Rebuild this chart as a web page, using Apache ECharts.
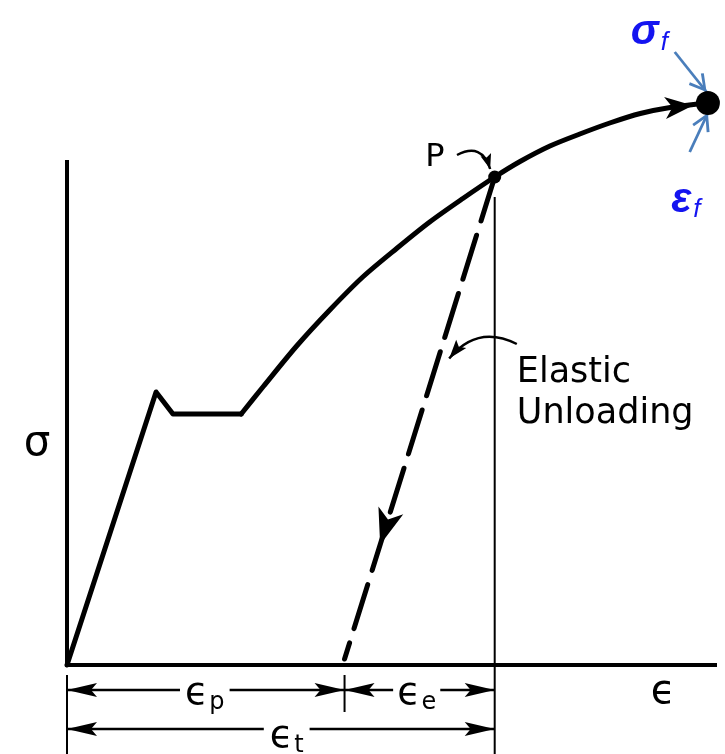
<!DOCTYPE html>
<html>
<head>
<meta charset="utf-8">
<script src="https://cdn.jsdelivr.net/npm/echarts@6/dist/echarts.min.js"></script>
<style>
  html, body { margin: 0; padding: 0; background: #fff; }
  #chart { width: 725px; height: 754px; }
</style>
</head>
<body>
<div id="chart"></div>
<script>
// Schematic engineering stress–strain curve, arbitrary units (x: strain, y: stress)
const loadingPath = [[0, 0], [13.7, 54.6], [16.3, 50.2], [26.8, 50.2]];       // elastic line, yield drop, plateau
const hardeningPath = [[26.8, 50.2], [30.2, 55.7], [35.4, 63.9], [40.5, 71.1], [45.5, 77.6],
  [50.8, 83.4], [55.8, 88.6], [60.9, 93.3], [65.8, 97.6], [69.7, 100.7], [74.3, 103.8],
  [78.9, 106.2], [83.5, 108.4], [88.2, 110.3], [92.8, 111.5], [98.6, 112.4]];
const pointP = [65.8, 97.6];          // unloading starts here
const unloadEnd = [42.7, 1.2];        // residual (plastic) strain after unloading
const fracturePoint = [98.6, 112.4];  // σf, εf
const strainAxisEnd = 100;
const stressAxisTop = 101;

// Texts
const stressSymbol = 'σ';
const strainSymbol = 'ϵ';
const pointLabel = 'P';
const unloadingLabel = ['Elastic', 'Unloading'];
const plasticSub = 'p', elasticSub = 'e', totalSub = 't';
const fractureStress = ['σ', 'f'];
const fractureStrain = ['ε', 'f'];

const chart = echarts.init(document.getElementById('chart'));
const INK = '#000';
const BLUE = '#1414f0';
const STEEL = '#4a7ebb';
const FONT = 'DejaVu Sans';

chart.setOption({
  animation: false,
  backgroundColor: '#fff',
  grid: { left: 67, right: 8, top: 15, bottom: 0 },
  xAxis: { type: 'value', min: 0, max: 100, show: false },
  yAxis: { type: 'value', min: -17.8, max: 130, show: false },
  series: []
});

const toPx = p => chart.convertToPixel({ gridIndex: 0 }, p);
const toData = p => chart.convertFromPixel({ gridIndex: 0 }, p);
function along(a, b, t) { return [a[0] + (b[0] - a[0]) * t, a[1] + (b[1] - a[1]) * t]; }

// Arrowhead whose tip sits on `tip`, pointing away from `from`
const ARROW = 'path://M10,0 L20,30 L10,24 L0,30 Z';
const BOLD_ARROW = 'path://M10,0 L20,30 L10,22 L0,30 Z';
const CHEVRON = 'path://M10,0 L20,17 L17.4,18.6 L10,5.6 L2.6,18.6 L0,17 Z';
function head(from, tip, w, h, shape) {
  const a = toPx(from), b = toPx(tip);
  const dx = b[0] - a[0], dy = b[1] - a[1];
  const len = Math.hypot(dx, dy);
  const item = {
    value: toData([b[0] - dx / len * h / 2, b[1] - dy / len * h / 2]),
    symbolSize: [w, h],
    symbolRotate: Math.atan2(-dx, -dy) * 180 / Math.PI
  };
  if (shape) item.symbol = shape;
  return item;
}
// Control point of a lines-series curve (ECharts curveness rule), for the end tangent
function curveCtrl(p1, p2, c) {
  const a = toPx(p1), b = toPx(p2);
  return toData([(a[0] + b[0]) / 2 - (a[1] - b[1]) * c, (a[1] + b[1]) / 2 - (b[0] - a[0]) * c]);
}

function seg(points, width, extra) {
  return Object.assign({
    type: 'line', clip: false, silent: true, symbol: 'none', data: points,
    lineStyle: { color: INK, width: width, cap: 'butt' }
  }, extra || {});
}

// dimension rows below the strain axis
const rowPlastic = -5, rowTotal = -12.8;
const dims = [
  [0, unloadEnd[0], rowPlastic],
  [unloadEnd[0], pointP[0], rowPlastic],
  [0, pointP[0], rowTotal]
];

const pCurl = { from: [60, 102], to: [65.1, 99.2], c: 0.6 };
const eCurl = { from: [69.2, 64.2], to: [58.8, 61.3], c: -0.4 };

const dashTip = along(pointP, unloadEnd, 0.763);
const curveArrowTip = [96.3, 111.9];

const heads = [];
dims.forEach(d => {
  heads.push(head([d[1], d[2]], [d[0], d[2]], 14, 30));
  heads.push(head([d[0], d[2]], [d[1], d[2]], 14, 30));
});
heads.push(head(pointP, dashTip, 26, 36, BOLD_ARROW));
heads.push(head([92.8, 111.5], curveArrowTip, 22, 28, BOLD_ARROW));
heads.push(head(curveCtrl(pCurl.from, pCurl.to, pCurl.c), pCurl.to, 11, 15));
heads.push(head(curveCtrl(eCurl.from, eCurl.to, eCurl.c), eCurl.to, 13, 19));

const blueFrom = [[93.5, 122.6], [95.8, 102.6]];
const blueTip = [[98.4, 114.6], [98.6, 110.4]];

function text(pos, formatter, style) {
  return {
    value: pos,
    label: Object.assign({ show: true, position: 'inside', formatter: formatter,
      color: INK, fontFamily: FONT }, style)
  };
}
const epsRich = {
  a: { fontSize: 38, fontFamily: FONT, color: INK },
  b: { fontSize: 24, fontFamily: FONT, color: INK, padding: [18, 0, 0, 1] }
};
const blueRich = {
  a: { fontSize: 42, fontFamily: 'Liberation Sans', fontWeight: 'bold', fontStyle: 'italic', color: BLUE },
  b: { fontSize: 26, fontFamily: 'Liberation Sans', fontStyle: 'italic', color: BLUE, padding: [20, 0, 0, 2] }
};

const series = [
  // axes
  seg([[0, stressAxisTop], [0, 0], [strainAxisEnd, 0]], 4, { lineStyle: { color: INK, width: 4, join: 'miter' } }),
  // vertical through P and extension lines
  seg([[pointP[0], pointP[1] - 4], [pointP[0], -17.8]], 2),
  seg([[0, -2], [0, -17.8]], 2),
  seg([[unloadEnd[0], -2], [unloadEnd[0], -9.4]], 2),
  // loading, yield drop and plateau
  seg(loadingPath, 5, { lineStyle: { color: INK, width: 5, join: 'round', cap: 'round' } }),
  // strain hardening to fracture
  seg(hardeningPath, 5, { smooth: 0.3, lineStyle: { color: INK, width: 5, cap: 'round' } }),
  // elastic unloading
  seg([pointP, unloadEnd], 5, { lineStyle: { color: INK, width: 5, type: [46, 15], cap: 'round' } })
];
dims.forEach(d => series.push(seg([[d[0], d[2]], [d[1], d[2]]], 2.5)));
blueFrom.forEach((f, i) => series.push(seg([f, blueTip[i]], 2.6, { lineStyle: { color: STEEL, width: 2.8 } })));
series.push({
  type: 'lines', coordinateSystem: 'cartesian2d', clip: false, silent: true, symbol: 'none',
  lineStyle: { color: INK, width: 2.5, opacity: 1 },
  data: [pCurl, eCurl].map(k => ({ coords: [k.from, k.to], lineStyle: { curveness: k.c } }))
});
series.push({
  type: 'scatter', clip: false, silent: true, z: 4, symbol: ARROW,
  itemStyle: { color: INK, opacity: 1 }, data: heads
});
series.push({
  type: 'scatter', clip: false, silent: true, z: 4, symbol: CHEVRON,
  itemStyle: { color: STEEL, opacity: 1 },
  data: blueFrom.map((f, i) => head(f, blueTip[i], 19, 18))
});
series.push({
  type: 'scatter', clip: false, silent: true, z: 5,
  itemStyle: { color: INK, opacity: 1 },
  data: [{ value: pointP, symbolSize: 13 }, { value: fracturePoint, symbolSize: 24 }]
});
series.push({
  type: 'scatter', clip: false, silent: true, z: 10, symbolSize: 0,
  itemStyle: { color: 'rgba(0,0,0,0)', opacity: 1 },
  data: [
    text([-4.6, 44.2], stressSymbol, { fontSize: 42 }),
    text([56.6, 101.4], pointLabel, { fontSize: 32 }),
    text([69.2, 54.4], unloadingLabel.join('\n'), { position: 'right', distance: 0, fontSize: 35, lineHeight: 41 }),
    text([91.7, -5.6], strainSymbol, { fontSize: 40 }),
    text([21.2, rowPlastic - 0.8], '{a|' + strainSymbol + '}{b|' + plasticSub + '}',
      { rich: epsRich, backgroundColor: '#fff', padding: [0, 5] }),
    text([53.8, rowPlastic - 0.8], '{a|' + strainSymbol + '}{b|' + elasticSub + '}',
      { rich: epsRich, backgroundColor: '#fff', padding: [0, 4] }),
    text([33.8, rowTotal - 1.6], '{a|' + strainSymbol + '}{b|' + totalSub + '}',
      { rich: epsRich, backgroundColor: '#fff', padding: [0, 6] }),
    text([89.6, 126.5], '{a|' + fractureStress[0] + '}{b|' + fractureStress[1] + '}', { rich: blueRich }),
    text([95.2, 93], '{a|' + fractureStrain[0] + '}{b|' + fractureStrain[1] + '}', { rich: blueRich })
  ]
});

chart.setOption({ series: series });
</script>
</body>
</html>
